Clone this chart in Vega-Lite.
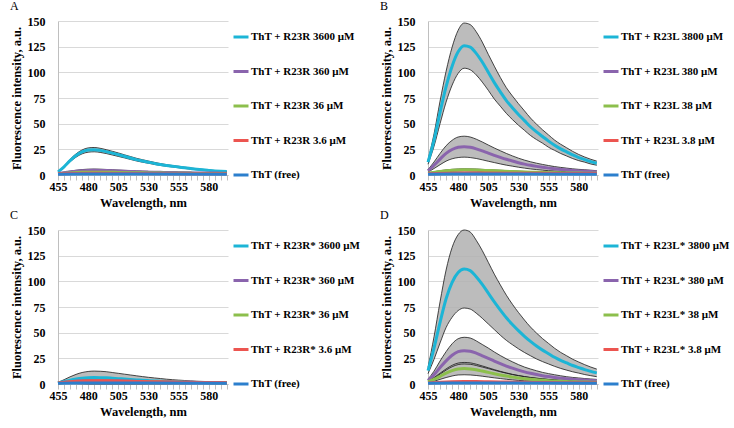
{
"$schema": "https://vega.github.io/schema/vega-lite/v6.json",
"padding": {"left": 9, "top": 0, "right": 0, "bottom": 0},
"columns": 2,
"spacing": {"row": 0, "column": 18},
"datasets": {
"labels": [
{"k":"A1","panel":"A","series":"ThT + R23R 3600 μM"},{"k":"A2","panel":"A","series":"ThT + R23R 360 μM"},{"k":"A3","panel":"A","series":"ThT + R23R 36 μM"},{"k":"A4","panel":"A","series":"ThT +  R23R 3.6 μM"},{"k":"A5","panel":"A","series":"ThT (free)"},
{"k":"B1","panel":"B","series":"ThT + R23L 3800 μM"},{"k":"B2","panel":"B","series":"ThT + R23L 380 μM"},{"k":"B3","panel":"B","series":"ThT + R23L 38 μM"},{"k":"B4","panel":"B","series":"ThT + R23L 3.8 μM"},{"k":"B5","panel":"B","series":"ThT (free)"},
{"k":"C1","panel":"C","series":"ThT + R23R* 3600 μM"},{"k":"C2","panel":"C","series":"ThT + R23R* 360 μM"},{"k":"C3","panel":"C","series":"ThT + R23R* 36 μM"},{"k":"C4","panel":"C","series":"ThT + R23R* 3.6 μM"},{"k":"C5","panel":"C","series":"ThT (free)"},
{"k":"D1","panel":"D","series":"ThT + R23L* 3800 μM"},{"k":"D2","panel":"D","series":"ThT + R23L* 380 μM"},{"k":"D3","panel":"D","series":"ThT +  R23L* 38 μM"},{"k":"D4","panel":"D","series":"ThT + R23L* 3.8 μM"},{"k":"D5","panel":"D","series":"ThT (free)"}
],
"spectra": [
{"k":"A1","nm":455,"y":3,"err":0.3},{"k":"A1","nm":460,"y":8,"err":0.7},{"k":"A1","nm":465,"y":14,"err":1.2},{"k":"A1","nm":470,"y":19,"err":1.6},{"k":"A1","nm":475,"y":22.5,"err":1.9},{"k":"A1","nm":480,"y":24.3,"err":2.1},{"k":"A1","nm":485,"y":24.7,"err":2.1},{"k":"A1","nm":490,"y":24,"err":2},{"k":"A1","nm":495,"y":22.8,"err":1.9},{"k":"A1","nm":500,"y":21.3,"err":1.8},{"k":"A1","nm":505,"y":19.8,"err":1.7},{"k":"A1","nm":510,"y":18.2,"err":1.5},{"k":"A1","nm":515,"y":16.6,"err":1.4},{"k":"A1","nm":520,"y":15,"err":1.3},{"k":"A1","nm":525,"y":13.7,"err":1.2},{"k":"A1","nm":530,"y":12.5,"err":1.1},{"k":"A1","nm":535,"y":11.3,"err":1},{"k":"A1","nm":540,"y":10.2,"err":0.9},{"k":"A1","nm":545,"y":9.3,"err":0.8},{"k":"A1","nm":550,"y":8.5,"err":0.7},{"k":"A1","nm":555,"y":7.8,"err":0.7},{"k":"A1","nm":560,"y":7,"err":0.6},{"k":"A1","nm":565,"y":6.3,"err":0.6},{"k":"A1","nm":570,"y":5.6,"err":0.5},{"k":"A1","nm":575,"y":5,"err":0.5},{"k":"A1","nm":580,"y":4.5,"err":0.4},{"k":"A1","nm":585,"y":4,"err":0.4},{"k":"A1","nm":590,"y":3.6,"err":0.3},{"k":"A1","nm":595,"y":3.3,"err":0.3},
{"k":"A2","nm":455,"y":1.5,"err":0.4},{"k":"A2","nm":460,"y":2.2,"err":0.6},{"k":"A2","nm":465,"y":3,"err":0.8},{"k":"A2","nm":470,"y":3.7,"err":0.9},{"k":"A2","nm":475,"y":4.2,"err":1.1},{"k":"A2","nm":480,"y":4.5,"err":1.2},{"k":"A2","nm":485,"y":4.6,"err":1.2},{"k":"A2","nm":490,"y":4.5,"err":1.2},{"k":"A2","nm":495,"y":4.3,"err":1.1},{"k":"A2","nm":500,"y":4.1,"err":1},{"k":"A2","nm":505,"y":3.8,"err":1},{"k":"A2","nm":510,"y":3.6,"err":0.9},{"k":"A2","nm":515,"y":3.4,"err":0.9},{"k":"A2","nm":520,"y":3.2,"err":0.8},{"k":"A2","nm":525,"y":3,"err":0.8},{"k":"A2","nm":530,"y":2.8,"err":0.7},{"k":"A2","nm":535,"y":2.7,"err":0.7},{"k":"A2","nm":540,"y":2.6,"err":0.7},{"k":"A2","nm":545,"y":2.5,"err":0.6},{"k":"A2","nm":550,"y":2.4,"err":0.6},{"k":"A2","nm":555,"y":2.3,"err":0.6},{"k":"A2","nm":560,"y":2.2,"err":0.6},{"k":"A2","nm":565,"y":2.1,"err":0.5},{"k":"A2","nm":570,"y":2,"err":0.5},{"k":"A2","nm":575,"y":2,"err":0.5},{"k":"A2","nm":580,"y":1.9,"err":0.5},{"k":"A2","nm":585,"y":1.9,"err":0.5},{"k":"A2","nm":590,"y":1.8,"err":0.5},{"k":"A2","nm":595,"y":1.8,"err":0.5},
{"k":"A3","nm":455,"y":1.2},{"k":"A3","nm":465,"y":2},{"k":"A3","nm":475,"y":2.6},{"k":"A3","nm":485,"y":2.8},{"k":"A3","nm":495,"y":2.7},{"k":"A3","nm":505,"y":2.5},{"k":"A3","nm":515,"y":2.3},{"k":"A3","nm":525,"y":2.1},{"k":"A3","nm":535,"y":1.9},{"k":"A3","nm":545,"y":1.8},{"k":"A3","nm":555,"y":1.7},{"k":"A3","nm":565,"y":1.6},{"k":"A3","nm":575,"y":1.5},{"k":"A3","nm":585,"y":1.5},{"k":"A3","nm":595,"y":1.4},
{"k":"A4","nm":455,"y":1.2},{"k":"A4","nm":485,"y":1.6},{"k":"A4","nm":515,"y":1.5},{"k":"A4","nm":555,"y":1.3},{"k":"A4","nm":595,"y":1.2},
{"k":"A5","nm":455,"y":0.8},{"k":"A5","nm":485,"y":1},{"k":"A5","nm":525,"y":0.9},{"k":"A5","nm":595,"y":0.8},
{"k":"B1","nm":455,"y":12.5,"err":2},{"k":"B1","nm":460,"y":34,"err":6},{"k":"B1","nm":465,"y":61,"err":11},{"k":"B1","nm":470,"y":86,"err":15},{"k":"B1","nm":475,"y":106,"err":18.5},{"k":"B1","nm":480,"y":120,"err":21},{"k":"B1","nm":485,"y":126,"err":22},{"k":"B1","nm":490,"y":124.5,"err":22},{"k":"B1","nm":495,"y":118.5,"err":21},{"k":"B1","nm":500,"y":110,"err":19.5},{"k":"B1","nm":505,"y":100,"err":17.5},{"k":"B1","nm":510,"y":90,"err":16},{"k":"B1","nm":515,"y":81,"err":14},{"k":"B1","nm":520,"y":72.5,"err":12.5},{"k":"B1","nm":525,"y":65.5,"err":11.5},{"k":"B1","nm":530,"y":59,"err":10.5},{"k":"B1","nm":535,"y":53,"err":9.5},{"k":"B1","nm":540,"y":47,"err":8.5},{"k":"B1","nm":545,"y":42,"err":7.5},{"k":"B1","nm":550,"y":37.5,"err":6.5},{"k":"B1","nm":555,"y":33,"err":6},{"k":"B1","nm":560,"y":29,"err":5},{"k":"B1","nm":565,"y":25.5,"err":4.5},{"k":"B1","nm":570,"y":22.5,"err":4},{"k":"B1","nm":575,"y":19.5,"err":3.5},{"k":"B1","nm":580,"y":17,"err":3},{"k":"B1","nm":585,"y":15,"err":2.5},{"k":"B1","nm":590,"y":13,"err":2.3},{"k":"B1","nm":595,"y":11.5,"err":2},
{"k":"B2","nm":455,"y":4,"err":1.2},{"k":"B2","nm":460,"y":9.5,"err":3.2},{"k":"B2","nm":465,"y":15.5,"err":5.5},{"k":"B2","nm":470,"y":21,"err":7.5},{"k":"B2","nm":475,"y":24.8,"err":9},{"k":"B2","nm":480,"y":27,"err":10},{"k":"B2","nm":485,"y":27.6,"err":10.2},{"k":"B2","nm":490,"y":27,"err":10},{"k":"B2","nm":495,"y":25.5,"err":9.4},{"k":"B2","nm":500,"y":23.5,"err":8.7},{"k":"B2","nm":505,"y":21.3,"err":7.9},{"k":"B2","nm":510,"y":19.2,"err":7.1},{"k":"B2","nm":515,"y":17.2,"err":6.4},{"k":"B2","nm":520,"y":15.3,"err":5.7},{"k":"B2","nm":525,"y":13.6,"err":5},{"k":"B2","nm":530,"y":12,"err":4.4},{"k":"B2","nm":535,"y":10.6,"err":3.9},{"k":"B2","nm":540,"y":9.4,"err":3.5},{"k":"B2","nm":545,"y":8.4,"err":3.1},{"k":"B2","nm":550,"y":7.5,"err":2.8},{"k":"B2","nm":555,"y":6.7,"err":2.5},{"k":"B2","nm":560,"y":6,"err":2.2},{"k":"B2","nm":565,"y":5.4,"err":2},{"k":"B2","nm":570,"y":4.9,"err":1.8},{"k":"B2","nm":575,"y":4.4,"err":1.6},{"k":"B2","nm":580,"y":4,"err":1.5},{"k":"B2","nm":585,"y":3.7,"err":1.4},{"k":"B2","nm":590,"y":3.4,"err":1.3},{"k":"B2","nm":595,"y":3.1,"err":1.1},
{"k":"B3","nm":455,"y":1.8,"err":0.4},{"k":"B3","nm":465,"y":3.5,"err":0.7},{"k":"B3","nm":475,"y":4.6,"err":0.9},{"k":"B3","nm":485,"y":5,"err":1},{"k":"B3","nm":495,"y":4.8,"err":1},{"k":"B3","nm":505,"y":4.3,"err":0.9},{"k":"B3","nm":515,"y":3.8,"err":0.8},{"k":"B3","nm":525,"y":3.3,"err":0.7},{"k":"B3","nm":535,"y":2.9,"err":0.6},{"k":"B3","nm":545,"y":2.6,"err":0.5},{"k":"B3","nm":555,"y":2.3,"err":0.5},{"k":"B3","nm":565,"y":2.1,"err":0.4},{"k":"B3","nm":575,"y":1.9,"err":0.4},{"k":"B3","nm":585,"y":1.8,"err":0.4},{"k":"B3","nm":595,"y":1.7,"err":0.3},
{"k":"B4","nm":455,"y":1.3},{"k":"B4","nm":485,"y":2},{"k":"B4","nm":525,"y":1.8},{"k":"B4","nm":565,"y":1.5},{"k":"B4","nm":595,"y":1.4},
{"k":"B5","nm":455,"y":0.8},{"k":"B5","nm":485,"y":1},{"k":"B5","nm":525,"y":0.9},{"k":"B5","nm":595,"y":0.8},
{"k":"C1","nm":455,"y":1,"err":0.5},{"k":"C1","nm":460,"y":2.4,"err":1.8},{"k":"C1","nm":465,"y":3.8,"err":3.2},{"k":"C1","nm":470,"y":4.9,"err":4.5},{"k":"C1","nm":475,"y":5.7,"err":5.5},{"k":"C1","nm":480,"y":6.1,"err":6.1},{"k":"C1","nm":485,"y":6.3,"err":6.3},{"k":"C1","nm":490,"y":6.2,"err":6.2},{"k":"C1","nm":495,"y":6,"err":6},{"k":"C1","nm":500,"y":5.6,"err":5.6},{"k":"C1","nm":505,"y":5.2,"err":5.2},{"k":"C1","nm":510,"y":4.8,"err":4.8},{"k":"C1","nm":515,"y":4.4,"err":4.4},{"k":"C1","nm":520,"y":4,"err":4},{"k":"C1","nm":525,"y":3.6,"err":3.6},{"k":"C1","nm":530,"y":3.3,"err":3.2},{"k":"C1","nm":535,"y":3,"err":2.9},{"k":"C1","nm":540,"y":2.7,"err":2.6},{"k":"C1","nm":545,"y":2.4,"err":2.3},{"k":"C1","nm":550,"y":2.2,"err":2},{"k":"C1","nm":555,"y":2,"err":1.8},{"k":"C1","nm":560,"y":1.8,"err":1.6},{"k":"C1","nm":565,"y":1.6,"err":1.4},{"k":"C1","nm":570,"y":1.5,"err":1.2},{"k":"C1","nm":575,"y":1.4,"err":1.1},{"k":"C1","nm":580,"y":1.3,"err":1},{"k":"C1","nm":585,"y":1.2,"err":0.9},{"k":"C1","nm":590,"y":1.1,"err":0.8},{"k":"C1","nm":595,"y":1,"err":0.7},
{"k":"C2","nm":455,"y":1,"err":0.3},{"k":"C2","nm":465,"y":2.2,"err":0.7},{"k":"C2","nm":475,"y":3,"err":0.9},{"k":"C2","nm":485,"y":3.4,"err":1},{"k":"C2","nm":495,"y":3.3,"err":1},{"k":"C2","nm":505,"y":3.1,"err":0.9},{"k":"C2","nm":515,"y":2.8,"err":0.8},{"k":"C2","nm":525,"y":2.5,"err":0.8},{"k":"C2","nm":535,"y":2.2,"err":0.7},{"k":"C2","nm":545,"y":2,"err":0.6},{"k":"C2","nm":555,"y":1.8,"err":0.5},{"k":"C2","nm":565,"y":1.6,"err":0.5},{"k":"C2","nm":575,"y":1.4,"err":0.4},{"k":"C2","nm":585,"y":1.3,"err":0.4},{"k":"C2","nm":595,"y":1.2,"err":0.4},
{"k":"C3","nm":455,"y":1},{"k":"C3","nm":465,"y":2},{"k":"C3","nm":475,"y":2.5},{"k":"C3","nm":485,"y":2.8},{"k":"C3","nm":495,"y":2.7},{"k":"C3","nm":505,"y":2.5},{"k":"C3","nm":515,"y":2.3},{"k":"C3","nm":525,"y":2.1},{"k":"C3","nm":535,"y":1.9},{"k":"C3","nm":545,"y":1.7},{"k":"C3","nm":555,"y":1.6},{"k":"C3","nm":565,"y":1.5},{"k":"C3","nm":575,"y":1.4},{"k":"C3","nm":585,"y":1.3},{"k":"C3","nm":595,"y":1.2},
{"k":"C4","nm":455,"y":1},{"k":"C4","nm":465,"y":2.2},{"k":"C4","nm":475,"y":2.9},{"k":"C4","nm":485,"y":3.2},{"k":"C4","nm":495,"y":3.1},{"k":"C4","nm":505,"y":2.9},{"k":"C4","nm":515,"y":2.7},{"k":"C4","nm":525,"y":2.4},{"k":"C4","nm":535,"y":2.2},{"k":"C4","nm":545,"y":2},{"k":"C4","nm":555,"y":1.8},{"k":"C4","nm":565,"y":1.6},{"k":"C4","nm":575,"y":1.5},{"k":"C4","nm":585,"y":1.4},{"k":"C4","nm":595,"y":1.3},
{"k":"C5","nm":455,"y":0.8},{"k":"C5","nm":485,"y":1},{"k":"C5","nm":525,"y":0.9},{"k":"C5","nm":595,"y":0.8},
{"k":"D1","nm":455,"y":13,"err":3},{"k":"D1","nm":460,"y":35,"err":11},{"k":"D1","nm":465,"y":60,"err":20},{"k":"D1","nm":470,"y":83,"err":28},{"k":"D1","nm":475,"y":99,"err":34},{"k":"D1","nm":480,"y":108.5,"err":37},{"k":"D1","nm":485,"y":112,"err":38},{"k":"D1","nm":490,"y":110.5,"err":37.5},{"k":"D1","nm":495,"y":104.5,"err":35.5},{"k":"D1","nm":500,"y":97,"err":33},{"k":"D1","nm":505,"y":88.5,"err":30},{"k":"D1","nm":510,"y":80,"err":27},{"k":"D1","nm":515,"y":72,"err":24.5},{"k":"D1","nm":520,"y":64.5,"err":22},{"k":"D1","nm":525,"y":58,"err":19.7},{"k":"D1","nm":530,"y":52,"err":17.7},{"k":"D1","nm":535,"y":46.5,"err":15.8},{"k":"D1","nm":540,"y":41.5,"err":14},{"k":"D1","nm":545,"y":37,"err":12.6},{"k":"D1","nm":550,"y":33,"err":11.2},{"k":"D1","nm":555,"y":29.5,"err":10},{"k":"D1","nm":560,"y":26,"err":8.8},{"k":"D1","nm":565,"y":23,"err":7.8},{"k":"D1","nm":570,"y":20.5,"err":7},{"k":"D1","nm":575,"y":18,"err":6.1},{"k":"D1","nm":580,"y":16,"err":5.4},{"k":"D1","nm":585,"y":14,"err":4.8},{"k":"D1","nm":590,"y":12.3,"err":4.2},{"k":"D1","nm":595,"y":10.8,"err":3.7},
{"k":"D2","nm":455,"y":3.5,"err":1.2},{"k":"D2","nm":460,"y":9,"err":3.5},{"k":"D2","nm":465,"y":16,"err":6.4},{"k":"D2","nm":470,"y":22.5,"err":9},{"k":"D2","nm":475,"y":28,"err":11.2},{"k":"D2","nm":480,"y":31.5,"err":12.6},{"k":"D2","nm":485,"y":32.5,"err":13},{"k":"D2","nm":490,"y":32,"err":12.8},{"k":"D2","nm":495,"y":30,"err":12},{"k":"D2","nm":500,"y":27.5,"err":11},{"k":"D2","nm":505,"y":25,"err":10},{"k":"D2","nm":510,"y":22.3,"err":8.9},{"k":"D2","nm":515,"y":19.8,"err":7.9},{"k":"D2","nm":520,"y":17.5,"err":7},{"k":"D2","nm":525,"y":15.4,"err":6.2},{"k":"D2","nm":530,"y":13.5,"err":5.4},{"k":"D2","nm":535,"y":11.8,"err":4.7},{"k":"D2","nm":540,"y":10.4,"err":4.2},{"k":"D2","nm":545,"y":9.2,"err":3.7},{"k":"D2","nm":550,"y":8.1,"err":3.2},{"k":"D2","nm":555,"y":7.2,"err":2.9},{"k":"D2","nm":560,"y":6.4,"err":2.6},{"k":"D2","nm":565,"y":5.7,"err":2.3},{"k":"D2","nm":570,"y":5.1,"err":2},{"k":"D2","nm":575,"y":4.6,"err":1.8},{"k":"D2","nm":580,"y":4.2,"err":1.7},{"k":"D2","nm":585,"y":3.8,"err":1.5},{"k":"D2","nm":590,"y":3.5,"err":1.4},{"k":"D2","nm":595,"y":3.2,"err":1.3},
{"k":"D3","nm":455,"y":2,"err":0.6},{"k":"D3","nm":460,"y":4.5,"err":1.8},{"k":"D3","nm":465,"y":7.5,"err":3},{"k":"D3","nm":470,"y":10.5,"err":4.2},{"k":"D3","nm":475,"y":13,"err":5.2},{"k":"D3","nm":480,"y":14.6,"err":5.8},{"k":"D3","nm":485,"y":15,"err":6},{"k":"D3","nm":490,"y":14.7,"err":5.9},{"k":"D3","nm":495,"y":13.8,"err":5.5},{"k":"D3","nm":500,"y":12.6,"err":5},{"k":"D3","nm":505,"y":11.3,"err":4.5},{"k":"D3","nm":510,"y":10,"err":4},{"k":"D3","nm":515,"y":8.8,"err":3.5},{"k":"D3","nm":520,"y":7.7,"err":3.1},{"k":"D3","nm":525,"y":6.7,"err":2.7},{"k":"D3","nm":530,"y":5.9,"err":2.4},{"k":"D3","nm":535,"y":5.2,"err":2.1},{"k":"D3","nm":540,"y":4.6,"err":1.8},{"k":"D3","nm":545,"y":4.1,"err":1.6},{"k":"D3","nm":550,"y":3.6,"err":1.4},{"k":"D3","nm":555,"y":3.2,"err":1.3},{"k":"D3","nm":560,"y":2.9,"err":1.2},{"k":"D3","nm":565,"y":2.6,"err":1},{"k":"D3","nm":570,"y":2.4,"err":1},{"k":"D3","nm":575,"y":2.2,"err":0.9},{"k":"D3","nm":580,"y":2,"err":0.8},{"k":"D3","nm":585,"y":1.9,"err":0.8},{"k":"D3","nm":590,"y":1.8,"err":0.7},{"k":"D3","nm":595,"y":1.7,"err":0.7},
{"k":"D4","nm":455,"y":1},{"k":"D4","nm":465,"y":1.8},{"k":"D4","nm":475,"y":2.3},{"k":"D4","nm":485,"y":2.5},{"k":"D4","nm":495,"y":2.4},{"k":"D4","nm":505,"y":2.2},{"k":"D4","nm":515,"y":2},{"k":"D4","nm":525,"y":1.8},{"k":"D4","nm":535,"y":1.6},{"k":"D4","nm":545,"y":1.5},{"k":"D4","nm":555,"y":1.4},{"k":"D4","nm":565,"y":1.3},{"k":"D4","nm":575,"y":1.2},{"k":"D4","nm":585,"y":1.2},{"k":"D4","nm":595,"y":1.1},
{"k":"D5","nm":455,"y":0.8},{"k":"D5","nm":485,"y":1},{"k":"D5","nm":525,"y":0.9},{"k":"D5","nm":595,"y":0.8}
]
},
"concat": [
{
"title": "A",
"width": 170, "height": 154,
"data": {"name": "spectra"},
"transform": [{"lookup": "k", "from": {"data": {"name": "labels"}, "key": "k", "fields": ["panel", "series"]}}, {"filter": "datum.panel == 'A'"}],
"encoding": {
"x": {"field": "nm", "type": "quantitative", "title": "Wavelength, nm", "scale": {"domain": [455, 596], "nice": false, "zero": false}, "axis": {"values": [455,460,465,470,475,480,485,490,495,500,505,510,515,520,525,530,535,540,545,550,555,560,565,570,575,580,585,590,595], "labelExpr": "(datum.value - 455) % 25 == 0 ? datum.label : ''"}},
"y": {"field": "y", "type": "quantitative", "title": "Fluorescence intensity, a.u.", "scale": {"domain": [0, 150], "nice": false}, "axis": {"values": [0, 25, 50, 75, 100, 125, 150]}}
},
"layer": [
{"transform": [{"filter": "isValid(datum.err)"}], "mark": {"type": "errorband", "interpolate": "monotone", "band": {"color": "#b0b0b0", "opacity": 0.85}, "borders": {"color": "#1a1a1a", "strokeWidth": 0.8}}, "encoding": {"yError": {"field": "err"}, "detail": {"field": "series"}}},
{"mark": {"type": "line", "interpolate": "monotone", "strokeWidth": 3}, "encoding": {"color": {"field": "series", "type": "nominal", "legend": {"title": null, "orient": "none", "legendX": 174, "legendY": 7}, "scale": {"domain": ["ThT + R23R 3600 μM", "ThT + R23R 360 μM", "ThT + R23R 36 μM", "ThT +  R23R 3.6 μM", "ThT (free)"], "range": ["#1cb5d6", "#8a64ad", "#8cbf4c", "#ec5550", "#2c7fcd"]}}}}
]
},
{
"title": "B",
"width": 170, "height": 154,
"data": {"name": "spectra"},
"transform": [{"lookup": "k", "from": {"data": {"name": "labels"}, "key": "k", "fields": ["panel", "series"]}}, {"filter": "datum.panel == 'B'"}],
"encoding": {
"x": {"field": "nm", "type": "quantitative", "title": "Wavelength, nm", "scale": {"domain": [455, 596], "nice": false, "zero": false}, "axis": {"values": [455,460,465,470,475,480,485,490,495,500,505,510,515,520,525,530,535,540,545,550,555,560,565,570,575,580,585,590,595], "labelExpr": "(datum.value - 455) % 25 == 0 ? datum.label : ''"}},
"y": {"field": "y", "type": "quantitative", "title": "Fluorescence intensity, a.u.", "scale": {"domain": [0, 150], "nice": false}, "axis": {"values": [0, 25, 50, 75, 100, 125, 150]}}
},
"layer": [
{"transform": [{"filter": "isValid(datum.err)"}], "mark": {"type": "errorband", "interpolate": "monotone", "band": {"color": "#b0b0b0", "opacity": 0.85}, "borders": {"color": "#1a1a1a", "strokeWidth": 0.8}}, "encoding": {"yError": {"field": "err"}, "detail": {"field": "series"}}},
{"mark": {"type": "line", "interpolate": "monotone", "strokeWidth": 3}, "encoding": {"color": {"field": "series", "type": "nominal", "legend": {"title": null, "orient": "none", "legendX": 174, "legendY": 7}, "scale": {"domain": ["ThT + R23L 3800 μM", "ThT + R23L 380 μM", "ThT + R23L 38 μM", "ThT + R23L 3.8 μM", "ThT (free)"], "range": ["#1cb5d6", "#8a64ad", "#8cbf4c", "#ec5550", "#2c7fcd"]}}}}
]
},
{
"title": "C",
"width": 170, "height": 154,
"data": {"name": "spectra"},
"transform": [{"lookup": "k", "from": {"data": {"name": "labels"}, "key": "k", "fields": ["panel", "series"]}}, {"filter": "datum.panel == 'C'"}],
"encoding": {
"x": {"field": "nm", "type": "quantitative", "title": "Wavelength, nm", "scale": {"domain": [455, 596], "nice": false, "zero": false}, "axis": {"values": [455,460,465,470,475,480,485,490,495,500,505,510,515,520,525,530,535,540,545,550,555,560,565,570,575,580,585,590,595], "labelExpr": "(datum.value - 455) % 25 == 0 ? datum.label : ''"}},
"y": {"field": "y", "type": "quantitative", "title": "Fluorescence intensity, a.u.", "scale": {"domain": [0, 150], "nice": false}, "axis": {"values": [0, 25, 50, 75, 100, 125, 150]}}
},
"layer": [
{"transform": [{"filter": "isValid(datum.err)"}], "mark": {"type": "errorband", "interpolate": "monotone", "band": {"color": "#b0b0b0", "opacity": 0.85}, "borders": {"color": "#1a1a1a", "strokeWidth": 0.8}}, "encoding": {"yError": {"field": "err"}, "detail": {"field": "series"}}},
{"mark": {"type": "line", "interpolate": "monotone", "strokeWidth": 3}, "encoding": {"color": {"field": "series", "type": "nominal", "legend": {"title": null, "orient": "none", "legendX": 174, "legendY": 7}, "scale": {"domain": ["ThT + R23R* 3600 μM", "ThT + R23R* 360 μM", "ThT + R23R* 36 μM", "ThT + R23R* 3.6 μM", "ThT (free)"], "range": ["#1cb5d6", "#8a64ad", "#8cbf4c", "#ec5550", "#2c7fcd"]}}}}
]
},
{
"title": "D",
"width": 170, "height": 154,
"data": {"name": "spectra"},
"transform": [{"lookup": "k", "from": {"data": {"name": "labels"}, "key": "k", "fields": ["panel", "series"]}}, {"filter": "datum.panel == 'D'"}],
"encoding": {
"x": {"field": "nm", "type": "quantitative", "title": "Wavelength, nm", "scale": {"domain": [455, 596], "nice": false, "zero": false}, "axis": {"values": [455,460,465,470,475,480,485,490,495,500,505,510,515,520,525,530,535,540,545,550,555,560,565,570,575,580,585,590,595], "labelExpr": "(datum.value - 455) % 25 == 0 ? datum.label : ''"}},
"y": {"field": "y", "type": "quantitative", "title": "Fluorescence intensity, a.u.", "scale": {"domain": [0, 150], "nice": false}, "axis": {"values": [0, 25, 50, 75, 100, 125, 150]}}
},
"layer": [
{"transform": [{"filter": "isValid(datum.err)"}], "mark": {"type": "errorband", "interpolate": "monotone", "band": {"color": "#b0b0b0", "opacity": 0.85}, "borders": {"color": "#1a1a1a", "strokeWidth": 0.8}}, "encoding": {"yError": {"field": "err"}, "detail": {"field": "series"}}},
{"mark": {"type": "line", "interpolate": "monotone", "strokeWidth": 3}, "encoding": {"color": {"field": "series", "type": "nominal", "legend": {"title": null, "orient": "none", "legendX": 174, "legendY": 7}, "scale": {"domain": ["ThT + R23L* 3800 μM", "ThT + R23L* 380 μM", "ThT +  R23L* 38 μM", "ThT + R23L* 3.8 μM", "ThT (free)"], "range": ["#1cb5d6", "#8a64ad", "#8cbf4c", "#ec5550", "#2c7fcd"]}}}}
]
}
],
"resolve": {"scale": {"color": "independent"}},
"config": {
"font": "Liberation Serif",
"view": {"stroke": null},
"axisY": {"grid": true, "gridColor": "#d9d9d9", "domainColor": "#bfbfbf", "ticks": false, "labelPadding": 13, "titlePadding": 4},
"axisX": {"labelOverlap": false, "labelFlush": false, "grid": false, "domainColor": "#bfbfbf", "tickColor": "#bfbfbf", "tickSize": 5, "labelPadding": 1, "titlePadding": 4},
"axis": {"labelFont": "Liberation Serif", "labelFontWeight": "bold", "labelFontSize": 12, "labelColor": "#000", "titleFont": "Liberation Serif", "titleFontWeight": "bold", "titleFontSize": 12.5, "titleColor": "#000"},
"legend": {"symbolType": "stroke", "symbolStrokeWidth": 3, "symbolSize": 225, "labelFont": "Liberation Serif", "labelFontWeight": "bold", "labelFontSize": 11, "labelColor": "#000", "rowPadding": 19.5, "padding": 0, "labelOffset": 1},
"title": {"font": "Liberation Serif", "fontSize": 12, "fontWeight": "normal", "anchor": "start", "frame": "bounds", "offset": 2, "color": "#000"}
}
}
